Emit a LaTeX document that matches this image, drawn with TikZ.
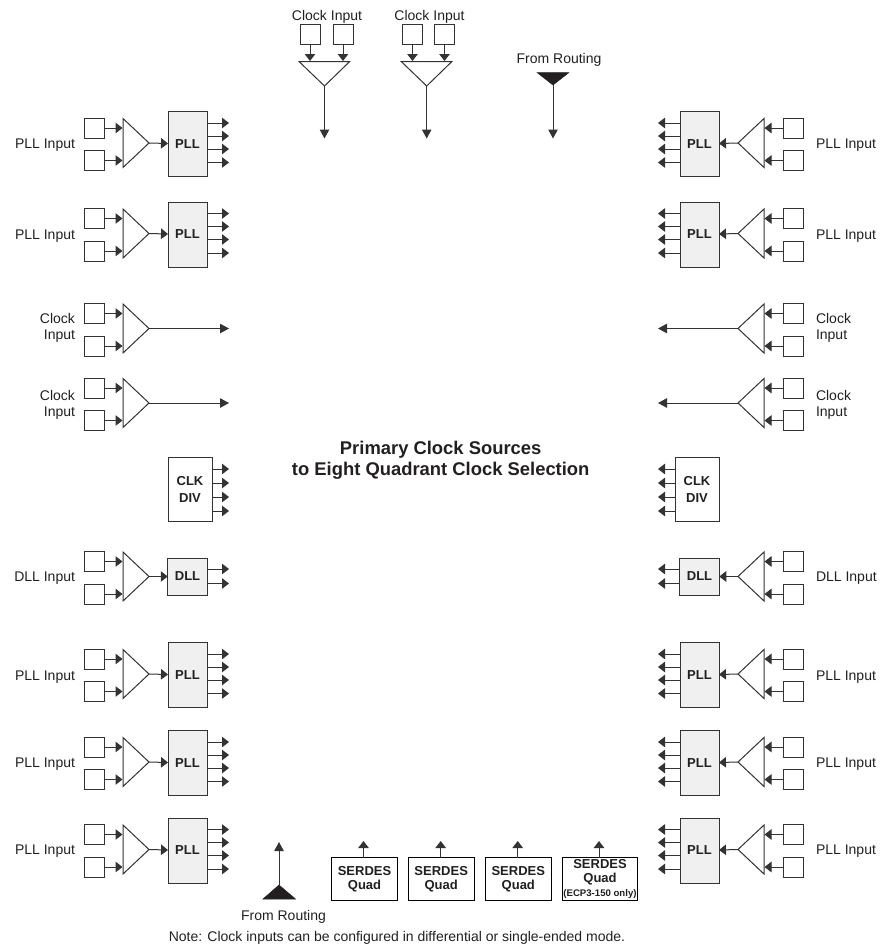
\documentclass[tikz,border=0pt]{standalone}
\usepackage{fontspec}
\setmainfont{Liberation Sans}
\usetikzlibrary{arrows.meta}
\definecolor{ln}{HTML}{333333}
\definecolor{pllfill}{HTML}{F0F0F0}
\definecolor{ink}{HTML}{231F20}
\tikzset{
  every node/.style={inner sep=0pt,outer sep=0pt,text=ink},
  conn/.style={draw=ln,line width=1pt,-{Triangle[length=7pt,width=10.5pt]}},
  longconn/.style={draw=ln,line width=1pt,-{Triangle[length=9pt,width=9.5pt]}},
  gate/.style={draw=ln,line width=1pt,fill=white,line join=miter},
  solid gate/.style={draw=ink,fill=ink,line width=.5pt},
  srcbox/.style={draw=ln,line width=1pt,fill=white,minimum width=20pt,minimum height=20pt},
  pllbox/.style={draw=ln,line width=1pt,fill=pllfill,minimum width=39pt,minimum height=65pt,font=\fontsize{13}{15}\selectfont\bfseries},
  dllbox/.style={draw=ln,line width=1pt,fill=pllfill,minimum width=39.5pt,minimum height=37pt,font=\fontsize{13}{15}\selectfont\bfseries},
  divbox/.style={draw=ln,line width=1pt,fill=white,minimum width=44pt,minimum height=64pt,align=center,font=\fontsize{13}{17}\selectfont\bfseries},
  quadbox/.style={draw=black,line width=1pt,fill=white,minimum height=43pt,align=center,font=\fontsize{13}{13.5}\selectfont\bfseries},
  lab/.style={font=\fontsize{14}{16.5}\selectfont,align=left},
  labr/.style={font=\fontsize{14}{16.5}\selectfont,align=right},
}
% #1 name, #2 apex y
\newcommand\inputs[2]{%
  \node[srcbox] (#1a) at (94,#2-15) {};
  \node[srcbox] (#1b) at (94,#2+17.5) {};
  \coordinate (#1ta) at (123,#2-24.5);
  \coordinate (#1tb) at (123,#2+24.5);
  \coordinate (#1tip) at (149,#2);
  \coordinate (#1ia) at (122.5,#2-15);
  \coordinate (#1ib) at (122.5,#2+17.5);
  \draw[gate] (#1ta) -- (#1tip) -- (#1tb) -- cycle;
  \draw[conn] (#1a) -- (#1ia);
  \draw[conn] (#1b) -- (#1ib);
}
% #1 name, #2 y, #3 list of output offsets
\newcommand\outs[3]{%
  \foreach \d [count=\i] in {#3} {
    \coordinate (#1e\i) at (229,#2+\d);
    \draw[conn] (#1\blockside |- #1e\i) -- (#1e\i);
  }%
}
\newcommand\pllrow[2]{%
  \inputs{#1}{#2}
  \node[pllbox] (#1) at (187.5,#2+1) {PLL};
  \draw[conn] (#1tip) -- (#1);
  \outs{#1}{#2}{-20,-7,6,19.5}
}
\newcommand\clockrow[2]{%
  \inputs{#1}{#2}
  \coordinate (#1end) at (229,#2);
  \draw[longconn] (#1tip) -- (#1end);
}
\newcommand\dllrow[2]{%
  \inputs{#1}{#2}
  \node[dllbox] (#1) at (187.5,#2) {DLL};
  \draw[conn] (#1tip) -- (#1);
  \outs{#1}{#2}{-7.5,7}
}
\newcommand\divrow[2]{%
  \node[divbox] (#1) at (190,489) {CLK\\DIV};
  \outs{#1}{#2}{-20,-6,8,22}
}
\begin{document}
\begin{tikzpicture}[x=1pt,y=-1pt]
\useasboundingbox (0,0) rectangle (881,945);

% left column
\def\blockside{.east}
\pllrow{lp}{143}
\pllrow{lq}{233.5}
\clockrow{lc}{328.5}
\clockrow{ld}{403}
\divrow{lv}{489}
\dllrow{ll}{576.5}
\pllrow{lr}{674}
\pllrow{ls}{762}
\pllrow{lt}{849.5}

% right column (mirrored)
\begin{scope}[shift={(887,0)},xscale=-1]
\def\blockside{.west}
\pllrow{rp}{143}
\pllrow{rq}{233.5}
\clockrow{rc}{328.5}
\clockrow{rd}{403}
\divrow{rv}{489}
\dllrow{rl}{576.5}
\pllrow{rr}{674}
\pllrow{rs}{762}
\pllrow{rt}{849.5}
\end{scope}

% left labels
\node[labr,anchor=east] (tl1) at (75,145) {PLL Input};
\node[labr,anchor=east] (tl2) at (75,236) {PLL Input};
\node[labr,anchor=east] (tl3) at (75,328) {Clock\\Input};
\node[labr,anchor=east] (tl4) at (75,405) {Clock\\Input};
\node[labr,anchor=east] (tl5) at (75,578) {DLL Input};
\node[labr,anchor=east] (tl6) at (75,677) {PLL Input};
\node[labr,anchor=east] (tl7) at (75,764) {PLL Input};
\node[labr,anchor=east] (tl8) at (75,851.5) {PLL Input};
% right labels
\node[lab,anchor=west] (tr1) at (816,145) {PLL Input};
\node[lab,anchor=west] (tr2) at (816,236) {PLL Input};
\node[lab,anchor=west] (tr3) at (816,328) {Clock\\Input};
\node[lab,anchor=west] (tr4) at (816,405) {Clock\\Input};
\node[lab,anchor=west] (tr5) at (816,578) {DLL Input};
\node[lab,anchor=west] (tr6) at (816,677) {PLL Input};
\node[lab,anchor=west] (tr7) at (816,764) {PLL Input};
\node[lab,anchor=west] (tr8) at (816,851.5) {PLL Input};

% top inputs
\foreach \n/\xa/\xb/\xc in {ta/310/343/324.5,tb/412.5/444.5/426.7}{
  \node[srcbox] (\n1) at (\xa,34) {};
  \node[srcbox] (\n2) at (\xb,34) {};
  \coordinate (\n l) at (\xc-25.5,61.5);
  \coordinate (\n r) at (\xc+25.2,61.5);
  \coordinate (\n tip) at (\xc,86);
  \coordinate (\n e) at (\xc,138.5);
  \coordinate (\n i1) at (\xa,61);
  \coordinate (\n i2) at (\xb,61);
  \draw[gate] (\n l) -- (\n r) -- (\n tip) -- cycle;
  \draw[conn] (\n1) -- (\n i1);
  \draw[conn] (\n2) -- (\n i2);
  \draw[longconn] (\n tip) -- (\n e);
}
\node[lab] (tt1) at (327,17) {Clock Input};
\node[lab] (tt2) at (429.5,17) {Clock Input};

% from routing, top
\coordinate (frl) at (537,72.5);
\coordinate (frr) at (569,72.5);
\coordinate (frt) at (553,85);
\coordinate (fre) at (553,138.5);
\draw[solid gate] (frl) -- (frr) -- (frt) -- cycle;
\draw[longconn] (frt) -- (fre);
\node[lab] (frlab) at (559,60) {From Routing};

% from routing, bottom
\coordinate (bfl) at (263,899);
\coordinate (bfr) at (295.5,899);
\coordinate (bft) at (279,885);
\coordinate (bfe) at (279,842);
\draw[solid gate] (bfl) -- (bfr) -- (bft) -- cycle;
\draw[longconn] (bft) -- (bfe);
\node[lab] (bflab) at (283.5,916.5) {From Routing};

% SERDES quads
\node[quadbox,minimum width=66.4pt] (q1) at (364.5,879) {SERDES\\[.5pt]Quad};
\node[quadbox,minimum width=66.4pt] (q2) at (441.2,879) {SERDES\\[.5pt]Quad};
\node[quadbox,minimum width=66.4pt] (q3) at (518.3,879) {SERDES\\[.5pt]Quad};
\node[quadbox,minimum width=75.4pt] (q4) at (600,879) {\raisebox{0pt}{SERDES}\\Quad\\[1pt]{\fontsize{9.6}{11}\selectfont (ECP3-150 only)}};
\foreach \q/\qx in {q1/363.5,q2/440.7,q3/517.7,q4/599}{
  \coordinate (\q e) at (\qx,841);
  \draw[conn] (\q.north -| \q e) -- (\q e);
}

% title and note
\node[font=\fontsize{18.4}{21}\selectfont\bfseries,align=center] (title) at (440.7,460.5) {Primary Clock Sources\\to Eight Quadrant Clock Selection};
\node[font=\fontsize{14}{16}\selectfont] (note) at (397,937.5) {Note: Clock inputs can be configured in differential or single-ended mode.};
\end{tikzpicture}
\end{document}
